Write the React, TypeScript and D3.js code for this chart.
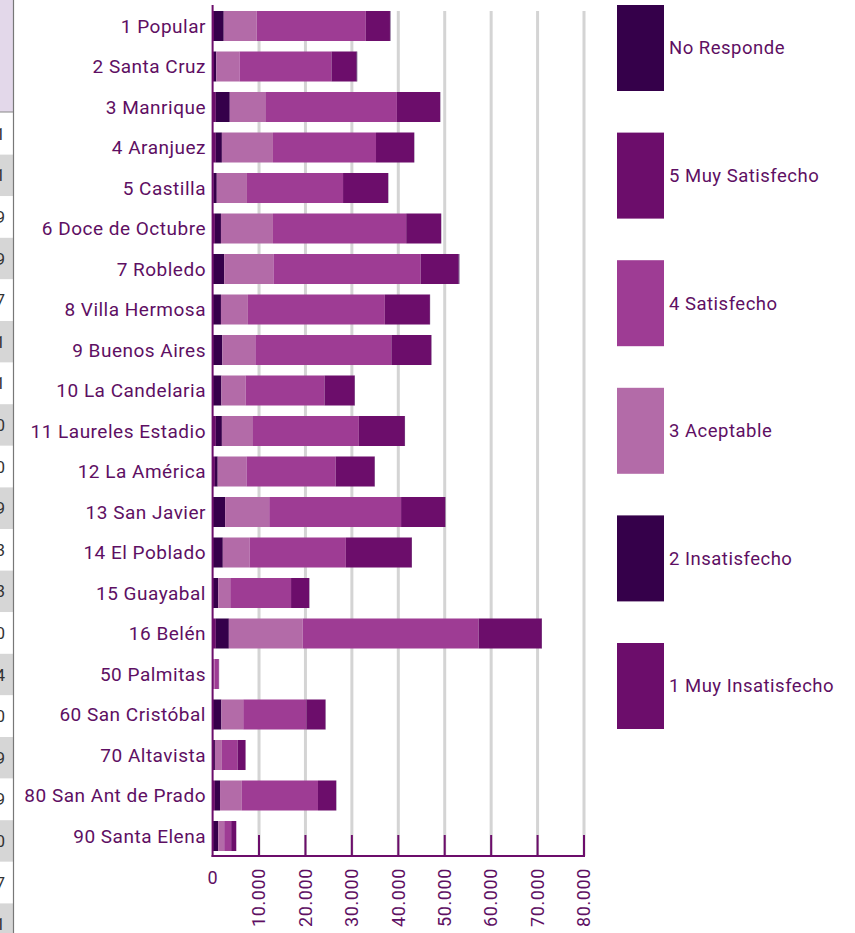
import React from "react";
import * as d3 from "d3";

const categories = [
  "1 Popular", "2 Santa Cruz", "3 Manrique", "4 Aranjuez", "5 Castilla",
  "6 Doce de Octubre", "7 Robledo", "8 Villa Hermosa", "9 Buenos Aires",
  "10 La Candelaria", "11 Laureles Estadio", "12 La América", "13 San Javier",
  "14 El Poblado", "15 Guayabal", "16 Belén", "50 Palmitas", "60 San Cristóbal",
  "70 Altavista", "80 San Ant de Prado", "90 Santa Elena",
];

const muyInsatisfecho = [300, 300, 700, 700, 200, 500, 100, 100, 100, 100, 700, 500, 100, 100, 100, 700, 50, 100, 100, 500, 100];
const insatisfecho = [2100, 500, 3000, 1300, 700, 1300, 2400, 1700, 2000, 1800, 1300, 600, 2600, 2100, 1100, 2800, 50, 1800, 400, 1100, 1100];
const aceptable = [7100, 5000, 7800, 11000, 6500, 11200, 10600, 5800, 7100, 5200, 6700, 6200, 9500, 5800, 2600, 15900, 300, 4700, 1500, 4700, 1300];
const satisfecho = [23500, 19800, 28200, 22200, 20700, 28700, 31700, 29500, 29300, 17000, 22800, 19200, 28400, 20700, 13100, 37900, 900, 13600, 3400, 16400, 1500];
const muySatisfecho = [5200, 5400, 9300, 8200, 9700, 7500, 8200, 9700, 8600, 6500, 9900, 8400, 9500, 14200, 3900, 13600, 100, 4100, 1700, 3900, 1100];
const noResponde = [100, 150, 50, 50, 50, 50, 150, 50, 50, 50, 50, 50, 50, 50, 50, 50, 0, 50, 0, 50, 0];

const seriesKeys = ["1 Muy Insatisfecho", "2 Insatisfecho", "3 Aceptable", "4 Satisfecho", "5 Muy Satisfecho", "No Responde"];
const seriesColors = ["#6c0d6b", "#35004a", "#b36ba8", "#9e3c94", "#6c0d6b", "#35004a"];
const legendOrder = ["No Responde", "5 Muy Satisfecho", "4 Satisfecho", "3 Aceptable", "2 Insatisfecho", "1 Muy Insatisfecho"];

const xTicks = [0, 10000, 20000, 30000, 40000, 50000, 60000, 70000, 80000];
const tickLabels = ["0", "10.000", "20.000", "30.000", "40.000", "50.000", "60.000", "70.000", "80.000"];

const tableDigits = ["1", "1", "9", "9", "7", "1", "1", "0", "0", "9", "3", "3", "0", "4", "0", "9", "9", "0", "7", "1"];

const FONT = "Roboto, 'Noto Sans', sans-serif";
const TEXT = "#5e0f63";

export default function App() {
  const W = 855, H = 933;
  const x = d3.scaleLinear().domain([0, 80000]).range([212.6, 584]);
  const y = d3.scaleBand<string>().domain(categories).range([5.75, 856.25]).paddingInner(0.259).paddingOuter(0.1295);

  const table = categories.map((c, i) => {
    const row: any = { cat: c };
    row[seriesKeys[0]] = muyInsatisfecho[i];
    row[seriesKeys[1]] = insatisfecho[i];
    row[seriesKeys[2]] = aceptable[i];
    row[seriesKeys[3]] = satisfecho[i];
    row[seriesKeys[4]] = muySatisfecho[i];
    row[seriesKeys[5]] = noResponde[i];
    return row;
  });
  const stacked = d3.stack().keys(seriesKeys)(table as any);
  const color = d3.scaleOrdinal<string, string>().domain(seriesKeys).range(seriesColors);

  const axisY = 856;
  const tableRowY = d3.scaleLinear().domain([0, 1]).range([113, 154.6]);
  const legendY = d3.scaleLinear().domain([0, 1]).range([5, 132.6]);

  return (
    <svg width={W} height={H} style={{ position: "absolute", left: 0, top: 0, background: "#fff" }}>
      {/* partial table on the left */}
      <rect x={0} y={0} width={13} height={112} fill="#e3d8ea" />
      <line x1={0} x2={13} y1={112} y2={112} stroke="#888" strokeWidth={1} />
      {tableDigits.map((dg, i) => (
        <g key={"td" + i}>
          <rect x={0} y={tableRowY(i)} width={13} height={tableRowY(i + 1) - tableRowY(i)} fill={i % 2 === 1 ? "#d6d6d6" : "#fff"} />
          <text x={5} y={(tableRowY(i) + tableRowY(i + 1)) / 2} dy="0.35em" textAnchor="end" fontFamily={FONT} fontSize={17} fill="#333">{dg}</text>
        </g>
      ))}
      <line x1={13.5} x2={13.5} y1={0} y2={H} stroke="#777" strokeWidth={1.2} />

      {/* gridlines */}
      {xTicks.slice(1).map((t) => (
        <line key={"g" + t} x1={x(t)} x2={x(t)} y1={11} y2={axisY} stroke="#d4d4d4" strokeWidth={3} />
      ))}

      {/* bars */}
      {stacked.map((s: any) => (
        <g key={s.key} fill={color(s.key)}>
          {s.map((d: any, i: number) => (
            <rect key={i} x={x(d[0])} y={y(categories[i])} width={Math.max(0, x(d[1]) - x(d[0]))} height={y.bandwidth()} />
          ))}
        </g>
      ))}

      {/* axes */}
      <line x1={212.6} x2={212.6} y1={5} y2={axisY + 1} stroke="#6c0d6b" strokeWidth={2} />
      <line x1={211.6} x2={x(80000) + 1} y1={axisY} y2={axisY} stroke="#6c0d6b" strokeWidth={2} />
      {xTicks.slice(1).map((t) => (
        <line key={"t" + t} x1={x(t)} x2={x(t)} y1={835} y2={axisY} stroke="#6c0d6b" strokeWidth={2} />
      ))}
      {xTicks.map((t, i) =>
        i === 0 ? (
          <text key={"l" + t} x={x(t)} y={884} textAnchor="middle" fontFamily={FONT} fontSize={18} fill={TEXT}>{tickLabels[i]}</text>
        ) : (
          <text key={"l" + t} transform={`translate(${x(t)},868) rotate(-90)`} dy="0.35em" textAnchor="end" fontFamily={FONT} fontSize={18} letterSpacing={0.6} fill={TEXT}>{tickLabels[i]}</text>
        )
      )}

      {/* category labels */}
      {categories.map((c) => (
        <text key={c} x={206} y={(y(c) as number) + y.bandwidth() / 2} dy="0.35em" textAnchor="end" fontFamily={FONT} fontSize={19} letterSpacing={0.5} fill={TEXT}>{c}</text>
      ))}

      {/* legend */}
      {legendOrder.map((k, i) => (
        <g key={k}>
          <rect x={617} y={legendY(i)} width={47} height={86} fill={color(k)} />
          <text x={669} y={legendY(i) + 43} dy="0.35em" fontFamily={FONT} fontSize={18.5} letterSpacing={0.5} fill={TEXT}>{k}</text>
        </g>
      ))}
    </svg>
  );
}
